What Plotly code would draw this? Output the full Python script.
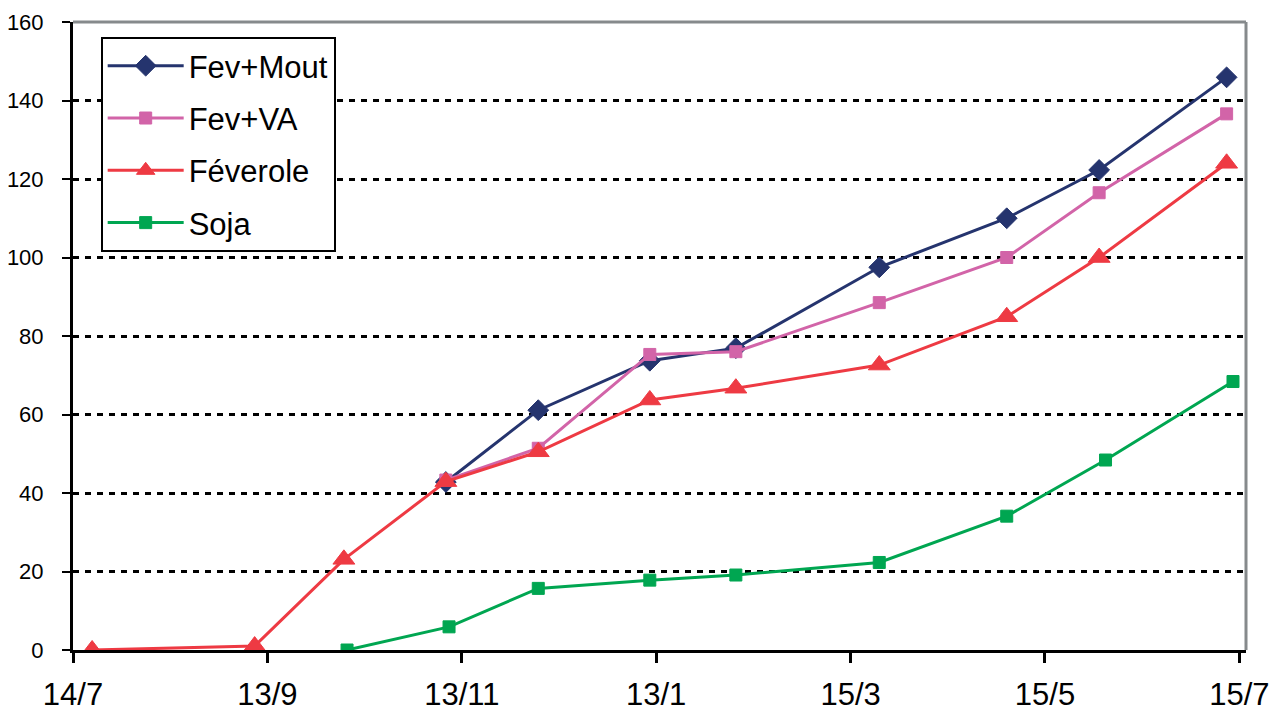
import plotly.graph_objects as go

# ---- data ----
tick_vals = ["2008-07-14", "2008-09-13", "2008-11-13", "2009-01-13", "2009-03-15", "2009-05-15", "2009-07-15"]
tick_text = ["14/7", "13/9", "13/11", "13/1", "15/3", "15/5", "15/7"]

mout_dates = ["2008-11-08", "2008-12-07", "2009-01-11", "2009-02-07", "2009-03-24", "2009-05-03", "2009-06-01", "2009-07-11"]
mout_vals = [42.8, 61.1, 73.7, 76.9, 97.5, 110.0, 122.3, 145.9]

va_dates = ["2008-11-08", "2008-12-07", "2009-01-11", "2009-02-07", "2009-03-24", "2009-05-03", "2009-06-01", "2009-07-11"]
va_vals = [43.3, 51.4, 75.3, 76.0, 88.5, 100.0, 116.5, 136.6]

fev_dates = ["2008-07-20", "2008-09-09", "2008-10-07", "2008-11-08", "2008-12-07", "2009-01-11", "2009-02-07", "2009-03-24", "2009-05-03", "2009-06-01", "2009-07-11"]
fev_vals = [0.0, 1.0, 23.1, 42.9, 50.5, 63.7, 66.7, 72.6, 84.9, 100.0, 124.0]

soja_dates = ["2008-10-08", "2008-11-09", "2008-12-07", "2009-01-11", "2009-02-07", "2009-03-24", "2009-05-03", "2009-06-03", "2009-07-13"]
soja_vals = [0.0, 5.9, 15.7, 17.8, 19.1, 22.3, 34.1, 48.4, 68.4]

series = [
    ("Fev+Mout", mout_dates, mout_vals, "#25346E", "diamond", 16),
    ("Fev+VA", va_dates, va_vals, "#D264A8", "square", 12),
    ("Féverole", fev_dates, fev_vals, "#EE3A43", "triangle-up", 19),
    ("Soja", soja_dates, soja_vals, "#00A651", "square", 12),
]

FONT = "Liberation Sans, Arial, sans-serif"

fig = go.Figure()
for i, (name, xs, ys, col, sym, sz) in enumerate(series):
    fig.add_trace(go.Scatter(
        x=xs, y=ys, name=name, mode="lines+markers",
        legendgroup=f"g{i}",
        line=dict(color=col, width=3),
        marker=dict(color=col, symbol=sym, size=sz, line=dict(color=col, width=1)),
    ))

fig.update_layout(
    width=1271, height=713,
    margin=dict(l=73, r=25, t=22, b=63, autoexpand=False),
    paper_bgcolor="white", plot_bgcolor="white",
    font=dict(family=FONT, color="black"),
    showlegend=True,
    legend=dict(
        x=0.0236, y=0.976, xanchor="left", yanchor="top",
        bordercolor="black", borderwidth=2, bgcolor="white",
        font=dict(size=31, family=FONT, color="black"),
        traceorder="grouped", tracegroupgap=9,
        itemwidth=76,
    ),
    xaxis=dict(
        type="date", automargin=False,
        range=["2008-07-14", "2009-07-17 02:00"],
        tickmode="array", tickvals=tick_vals, ticktext=tick_text,
        showgrid=False, zeroline=False,
        showline=True, linecolor="black", linewidth=3,
        ticks="outside", ticklen=10, tickwidth=3, tickcolor="black",
        tickfont=dict(size=31, family=FONT, color="black"),
        ticklabelstandoff=5,
    ),
    yaxis=dict(
        automargin=False,
        range=[0, 160], tick0=0, dtick=20,
        showgrid=True, gridcolor="black", gridwidth=2.5, griddash="6px,6px",
        zeroline=False,
        showline=True, linecolor="black", linewidth=3,
        ticks="outside", ticklen=8, tickwidth=2, tickcolor="black",
        tickfont=dict(size=22, family=FONT, color="black"),
        ticklabelstandoff=14,
    ),
    shapes=[
        dict(type="line", xref="paper", yref="paper", x0=0, x1=1, y0=1, y1=1,
             line=dict(color="#868a8c", width=3), layer="above"),
        dict(type="line", xref="paper", yref="paper", x0=1, x1=1, y0=0, y1=1,
             line=dict(color="#868a8c", width=3), layer="above"),
    ],
)

fig.write_html(
    "out.html",
    config={"displayModeBar": False},
    post_script="document.body.style.margin='0';document.body.style.overflow='hidden';",
)
